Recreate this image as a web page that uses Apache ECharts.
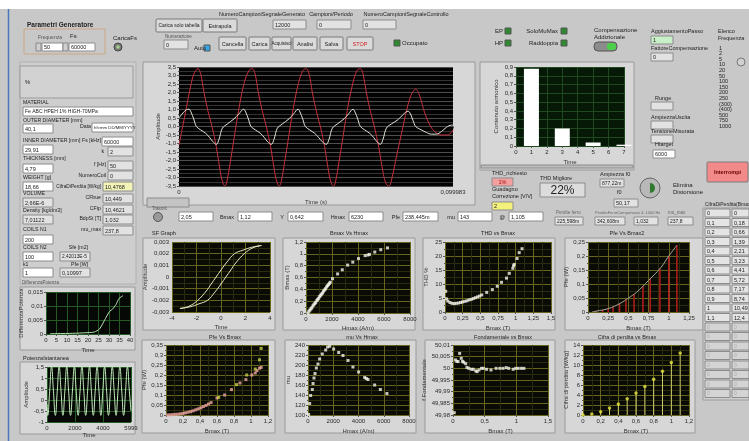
<!DOCTYPE html>
<html><head><meta charset="utf-8">
<script src="https://cdn.jsdelivr.net/npm/echarts@6/dist/echarts.min.js"></script>
<style>html,body{margin:0;padding:0;background:#c8c8c8;}#c{width:749px;height:441px;}</style>
</head><body><div id="c"></div>
<script>
// ---------------- DATA ----------------
const mainRed = [[0,-1.1],[0.00122,-0.1],[0.00268,1.1],[0.00414,2.3],[0.00547,3.1],[0.00693,3.4],
[0.00791,3.1],[0.00912,2.0],[0.01058,0.9],[0.01204,0.0],[0.01363,-1.2],[0.01521,-2.8],[0.01618,-3.4],[0.01679,-3.5],[0.01752,-3.2],[0.01861,-2.2],[0.02019,-0.6],[0.0219,1.1],[0.02384,2.6],[0.02555,3.3],
[0.02676,3.4],[0.02774,3.1],[0.02895,2.0],[0.03041,0.9],[0.03187,0.0],[0.03345,-1.2],[0.03504,-2.8],[0.03601,-3.4],[0.03662,-3.5],[0.03735,-3.2],[0.03844,-2.2],[0.04002,-0.6],[0.04173,1.1],[0.04367,2.6],[0.04526,3.3],
[0.04647,3.4],[0.04745,3.1],[0.04866,2.0],[0.05012,0.9],[0.05158,0.0],[0.05316,-1.2],[0.05474,-2.8],[0.05572,-3.4],[0.05645,-3.5],[0.05718,-3.2],[0.05827,-2.2],[0.05985,-0.6],[0.06156,1.1],[0.0635,2.6],[0.06496,3.3],
[0.06618,3.4],[0.06715,3.1],[0.06837,2.0],[0.06983,0.9],[0.07129,0.0],[0.07287,-1.2],[0.07457,-2.8],[0.07567,-3.4],[0.07664,-3.5],[0.07749,-3.2],[0.07932,-1.8],[0.08175,0.0],[0.08358,1.3],[0.08516,2.0],[0.08637,2.2],[0.08783,1.8],[0.08966,0.8],[0.09148,0.1],[0.09331,-0.3],[0.09574,-0.5],[0.09818,-0.5],[0.099983,-0.2]];
const mainWhite = [[0,0.5],[0.00146,0.8],[0.00268,0.98],[0.00365,1.02],
[0.00438,0.85],[0.00535,0.45],[0.00633,0.0],[0.00791,-0.2],[0.00973,-0.4],[0.01119,-0.65],[0.01241,-0.9],[0.01363,-1.05],[0.0146,-0.75],[0.01582,-0.1],[0.01764,0.15],[0.02007,0.45],[0.0219,0.75],
[0.0236,1.02],[0.02433,0.85],[0.0253,0.45],[0.02628,0.0],[0.02786,-0.2],[0.02968,-0.4],[0.03114,-0.65],[0.03236,-0.9],[0.0337,-1.05],[0.03467,-0.75],[0.03589,-0.1],[0.03771,0.15],[0.04015,0.45],[0.04185,0.75],
[0.04343,1.02],[0.04416,0.85],[0.04513,0.45],[0.04611,0.0],[0.04769,-0.2],[0.04951,-0.4],[0.05097,-0.65],[0.05231,-0.9],[0.05377,-1.05],[0.05474,-0.75],[0.05596,-0.1],[0.05779,0.15],[0.06022,0.45],[0.06192,0.75],
[0.0635,1.02],[0.06423,0.85],[0.06521,0.45],[0.06618,0.0],[0.06776,-0.2],[0.06959,-0.4],[0.07105,-0.65],[0.07226,-0.9],[0.07348,-1.05],[0.07445,-0.75],[0.07567,-0.1],[0.07749,0.15],[0.07993,0.4],[0.08175,0.7],
[0.08358,0.9],[0.08443,0.75],[0.0854,0.35],[0.08637,0.0],[0.08844,-0.2],[0.09027,-0.35],[0.09209,-0.45],[0.09392,-0.45],[0.09574,-0.3],[0.09757,-0.05],[0.09939,0.08],[0.099983,0.08]];
const harmOrder = [1, 3, 5, 7];
const harmAmp = [0.88, 0.2, 0.04, 0.015];
const hystUpper = [[3.3,0.0027],[2.5,0.00255],[1.8,0.0023],[1.1,0.002],[0.5,0.0013],[0,0.0006],[-0.4,0],[-0.8,-0.0006],[-1.2,-0.0012],[-1.9,-0.002],[-2.6,-0.0025],[-3.35,-0.0027]];
const hystLower = [[-3.35,-0.0027],[-2.5,-0.00255],[-1.8,-0.0023],[-1.1,-0.002],[-0.5,-0.0013],[0,-0.0006],[0.4,0],[0.8,0.0006],[1.2,0.0012],[1.9,0.002],[2.6,0.0025],[3.3,0.0027]];
const bmaxHmax = [[150,0.0],[230,0.03],[300,0.05],[380,0.07],[450,0.09],[530,0.12],[600,0.14],[680,0.16],[750,0.18],[830,0.21],[900,0.23],[980,0.25],[1050,0.28],[1130,0.3],[1200,0.32],[1280,0.34],[1350,0.37],[1430,0.39],[1500,0.41],[1580,0.44],[1650,0.46],[1730,0.48],[1800,0.5],[1870,0.52],[2040,0.58],[2430,0.66],[2790,0.73],[3200,0.81],[3600,0.86],[4040,0.92],[4550,0.97],[4760,0.98],[4880,0.99],[5290,1.03],[5750,1.07],[6270,1.1]];
const thdBmax = [[0.01,7.4],[0.02,4.7],[0.04,3.9],[0.07,3.4],[0.1,3.1],[0.13,3.0],[0.16,3.1],[0.19,3.2],[0.22,3.4],[0.25,3.6],[0.28,3.8],[0.31,4.0],[0.34,4.3],[0.37,4.5],[0.4,4.8],[0.43,5.1],[0.46,5.4],[0.49,5.7],[0.52,6.1],[0.59,7.0],[0.67,8.0],[0.74,9.2],[0.8,10.6],[0.87,12.1],[0.91,13.8],[0.96,15.6],[0.97,16.5],[0.98,17.0],[1.02,19.1],[1.05,21.2],[1.09,22.6]];
const pfeStems = [[0.1,0.003],[0.18,0.007],[0.25,0.012],[0.31,0.019],[0.39,0.03],[0.47,0.044],[0.57,0.064],[0.68,0.092],[0.77,0.118],[0.89,0.155],[1.0,0.2],[1.1,0.238]];
const pfeCurve = [[0.05,0.0],[0.1,0.003],[0.25,0.012],[0.4,0.031],[0.5,0.05],[0.6,0.07],[0.75,0.113],[0.9,0.158],[1.0,0.2],[1.1,0.238]];
const pfePink = [[0.02,0.0],[0.05,0.001],[0.08,0.002],[0.11,0.003],[0.14,0.004],[0.17,0.006],[0.2,0.008],[0.23,0.011],[0.26,0.014],[0.29,0.017],[0.32,0.021],[0.35,0.026],[0.38,0.031],[0.41,0.036],[0.44,0.042],[0.47,0.048],[0.5,0.055],[0.53,0.062],[0.6,0.085],[0.69,0.1],[0.77,0.127],[0.87,0.16],[0.94,0.177],[1.01,0.2],[1.05,0.21],[1.07,0.222],[1.1,0.234],[1.12,0.238]];
const pfeYellow = [[0.62,0.088],[0.83,0.152],[0.95,0.2],[1.05,0.23],[1.1,0.276],[1.12,0.333]];
const muHmax = [[50,101],[130,123],[210,139],[340,151],[400,163],[475,174],[555,183],[660,194],[790,202],[920,212],[1130,222],[1400,230],[1550,236],[1720,237.5],[2030,232],[2430,225],[2770,219],[3170,209],[3560,196],[4010,186],[4490,175],[4620,173],[4750,171],[5280,160],[5730,151],[6250,143]];
const fundBmax = [[0.02,49.981],[0.04,50.0036],[0.06,50.003],[0.08,50.0029],[0.105,50.0064],[0.13,50.0043],[0.15,50.003],[0.17,50.0026],[0.2,50.002],[0.22,50.0004],[0.25,50.0],[0.29,49.9996],[0.32,49.9996],[0.36,49.9989],[0.38,49.9986],[0.41,49.9993],[0.45,50.0],[0.48,50.0],[0.53,49.9996],[0.6,49.9993],[0.68,50.0],[0.74,50.0],[0.79,50.0],[0.84,50.0003],[0.88,50.0],[0.95,49.9996],[0.99,50.0],[1.03,50.0],[1.08,50.0],[1.12,50.0]];
const lossB = [0, 0.1, 0.2, 0.3, 0.4, 0.5, 0.6, 0.7, 0.8, 0.9, 1, 1.1];
const lossVal = [0, 0.18, 0.66, 1.39, 2.21, 3.23, 4.41, 5.72, 7.17, 8.74, 10.49, 12.4];
const lossBLabels = ['0','0,1','0,2','0,3','0,4','0,5','0,6','0,7','0,8','0,9','1','1,1'];
const lossValLabels = ['0','0,18','0,66','1,39','2,21','3,23','4,41','5,72','7,17','8,74','10,49','12,4'];
const diffPot = [[2,0.0001],[10,0.0002],[15,0.0003],[20,0.0005],[23,0.0007],[25.5,0.0018],[28.3,0.0055],[30.2,0.008],[31.7,0.0089],[33.3,0.0105],[34.8,0.0127],[36.7,0.0137]];
const potInst = [[0,-0.2],[54,-0.7],[190,0.4],[325,1.5],[460,0.4],[596,-0.7],[732,0.4],[867,1.5],[1003,0.4],[1138,-0.7],[1274,0.4],[1409,1.5],[1545,0.4],[1680,-0.7],[1816,0.4],[1951,1.5],[2087,0.4],[2222,-0.7],[2358,0.4],[2493,1.5],[2629,0.4],[2764,-0.7],[2900,0.4],[3035,1.5],[3171,0.4],[3306,-0.7],[3442,0.4],[3577,1.5],[3713,0.4],[3848,-0.7],[3984,0.4],[4119,1.5],[4255,0.4],[4390,-0.7],[4526,0.4],[4661,1.5],[4797,0.4],[4932,-0.7],[5068,0.4],[5203,1.5],[5339,0.4],[5474,-0.7],[5610,0.4],[5745,1.5],[5881,0.4],[5999,-0.5]];
const freqList = ['1','2','5','10','20','50','100','150','200','250','(300)','(400)','500','750','1000'];

// ---------------- HELPERS ----------------
const F = '"Liberation Sans","DejaVu Sans",Arial,sans-serif';
const fmt = v => String(parseFloat(v.toFixed(6))).replace('.', ',');
const G = [];
function rect(x,y,w,h,fill,stroke,z,r){ G.push({type:'rect', z:(z===undefined?-5:z), shape:{x:x,y:y,width:w,height:h,r:r||0}, style:{fill:fill, stroke:stroke||null, lineWidth:1}}); }
function txt(x,y,s,o){ o=o||{}; G.push({type:'text', z:(o.z===undefined?20:o.z), x:x, y:y, rotation:o.rot||0, style:{text:s, fill:o.c||'#222', font:(o.b?'bold ':'')+(o.s||6)+'px '+F, align:o.a||'left', verticalAlign:o.v||'middle'}}); }
function inp(x,y,w,h,s,fill,o){ o=o||{}; rect(x,y,w,h,fill||'#ffffff','#8c8c8c',-2); txt(o.a==='center'?x+w/2:x+2,y+h/2+0.5,s,{s:o.s||5.5,c:o.c||'#222',a:o.a||'left',b:o.b}); }
function btn(x,y,w,h,s,o){ o=o||{}; rect(x,y,w,h,o.fill||'#dadada','#7a7a7a',-2,1); txt(x+w/2,y+h/2+0.5,s,{s:o.s||5.5,c:o.c||'#222',a:'center',b:o.b}); }
function led(x,y,c){ rect(x,y,6,6,c,'#555',-1); }

const grids=[], xAxes=[], yAxes=[], series=[];
const lab = {fontSize:6, color:'#2a2a2a', fontFamily:F, margin:3};
const nts = {fontSize:6, color:'#333', fontFamily:F};
function plot(p){
  const i = grids.length;
  grids.push({left:p.l, top:p.t, width:p.w, height:p.h, show:true, backgroundColor:p.bg, borderWidth:0});
  xAxes.push({gridIndex:i, type:'value', min:p.x[0], max:p.x[1], interval:p.x[2], name:p.xn, nameLocation:'middle', nameGap:p.xg||13, nameTextStyle:nts,
    axisLine:{show:false}, axisTick:{show:true,length:2,lineStyle:{color:'#555'}},
    axisLabel:Object.assign({}, lab, {formatter:p.xf||fmt, showMinLabel:true, showMaxLabel:true}),
    splitLine:{show:p.gx!==false, lineStyle:{color:p.gc,width:1}},
    minorTick:{show:!!p.mx, splitNumber:p.mx||2, length:1},
    minorSplitLine:{show:!!p.mx, lineStyle:{color:p.mc,width:1}}});
  yAxes.push({gridIndex:i, type:'value', min:p.y[0], max:p.y[1], interval:p.y[2], name:p.yn, nameLocation:'middle', nameGap:p.yg||15, nameTextStyle:nts, nameRotate:90,
    axisLine:{show:false}, axisTick:{show:true,length:2,lineStyle:{color:'#555'}},
    axisLabel:Object.assign({}, lab, {formatter:p.yf||fmt, showMinLabel:true, showMaxLabel:true}),
    splitLine:{show:true, lineStyle:{color:p.gc,width:1}},
    minorTick:{show:!!p.my, splitNumber:p.my||2, length:1},
    minorSplitLine:{show:!!p.my, lineStyle:{color:p.mc,width:1}}});
  return i;
}
function line(i,data,color,o){ o=o||{}; series.push({type:'line', xAxisIndex:i, yAxisIndex:i, data:data, showSymbol:false, smooth:o.smooth===undefined?0.3:o.smooth, lineStyle:{color:color,width:o.w||1}, itemStyle:{color:color}, animation:false, z:o.z||3}); }
function dots(i,data,color,size,sym){ series.push({type:'scatter', xAxisIndex:i, yAxisIndex:i, data:data, symbol:sym||'rect', symbolSize:size||3, itemStyle:{color:color}, animation:false, z:4}); }
function stems(i,data,color,w){ series.push({type:'bar', xAxisIndex:i, yAxisIndex:i, data:data, barWidth:w||1, itemStyle:{color:color}, animation:false, z:3}); }

const PANEL='#d7d7d7', PSTROKE='#9a9a9a';
const OLIVE='#66661f', OLIVEM='#2b2b10', SMBG='#0b0b06';

// ---------------- BACKGROUND / FRAMES ----------------
rect(0,0,749,9,'#ffffff',null,-9);
G.push({type:'line', z:-4, shape:{x1:8.5,y1:9,x2:8.5,y2:441}, style:{stroke:'#4a78c0', lineWidth:1.5}});
rect(20,62,116,222,'#cecece','#b0b0b0',-8);
rect(143,62,332,143,PANEL,PSTROKE);
rect(480,62,154,108,PANEL,PSTROKE);
rect(20,287,115,63,PANEL,PSTROKE);
rect(20,362,115,72,PANEL,PSTROKE);
rect(143,238,132,92,PANEL,PSTROKE);
rect(283,238,132,92,PANEL,PSTROKE);
rect(423,238,132,92,PANEL,PSTROKE);
rect(565,238,138,92,PANEL,PSTROKE);
rect(142,340,133,93,PANEL,PSTROKE);
rect(285,340,131,93,PANEL,PSTROKE);
rect(425,340,130,93,PANEL,PSTROKE);
rect(565,340,130,93,PANEL,PSTROKE);
rect(147,198,42,9,'#c4c4c4','#8a8a8a',-2);
rect(481,165,152,3,'#bdbdbd','#8a8a8a',-2);

// ---------------- TOP BAR ----------------
txt(27,25,'Parametri Generatore',{b:true,s:6.5});
rect(24,29,81,25,'rgba(0,0,0,0)','#c8a882',-3);
txt(50,38,'Frequenza',{s:5,c:'#555',a:'center'}); txt(70,36,'Fs',{s:6});
rect(36,43,5,8,'#cfcfcf','#888',-2); inp(42,43,21,8,'50');
rect(63,43,5,8,'#cfcfcf','#888',-2); inp(69,43,26,8,'60000');
txt(113,38,'CaricaFs',{s:6});
G.push({type:'circle', z:5, shape:{cx:118,cy:47,r:4}, style:{fill:'#7a7a7a', stroke:'#444'}});
G.push({type:'circle', z:6, shape:{cx:118,cy:47,r:1.8}, style:{fill:'#9fd08a'}});
btn(156,19,46,13,'Carica solo tabella',{s:5});
btn(203,19,34,13,'Estrapola',{s:5.5});
txt(262,14,'NumeroCampioniSegnaleGenerato',{s:5.5,a:'center'});
txt(331,14,'Campioni/Periodo',{s:5.5,a:'center'});
txt(406,14,'NumeroCampioniSegnaleControllo',{s:5.5,a:'center'});
inp(273,20,33,9,'12000','#e2e2e2'); inp(317,20,34,9,'0','#e2e2e2'); inp(363,20,33,9,'0','#e2e2e2');
txt(165,37,'Numerazione',{s:4.5,c:'#555'}); inp(164,40,24,9,'0','#e2e2e2');
txt(194,48,'Auto',{s:6}); led(204,45,'#3aa8e8');
btn(219,37,27,13,'Cancella'); btn(249,37,21,13,'Carica'); btn(272,37,19,13,'Acquisisci',{s:4.5});
btn(293,37,24,13,'Analisi'); btn(320,37,23,13,'Salva'); btn(347,37,26,13,'STOP',{c:'#d02020'});
led(394,40,'#2e8a2e'); txt(402,43,'Occupato');
txt(503,31,'EP',{a:'right'}); led(505,28,'#2e8a2e');
txt(503,43,'HP',{a:'right'}); led(505,40,'#2e8a2e');
txt(558,31,'SoloMuMax',{a:'right'}); led(561,28,'#2e8a2e');
txt(558,43,'Raddoppia',{a:'right'}); led(561,40,'#2e8a2e');
txt(594,30,'Compensazione'); txt(594,37,'Addizionale');
rect(594,42,23,9,'#8c8c8c','#555',-2,4); rect(607,43,9,7,'#4cd04c',null,-1,3);
txt(651,31,'AggiustamentoPasso',{s:5.5}); inp(651,36,22,8,'1','#c8f0c8');
txt(651,48,'FattoreCompensazione',{s:5.5}); inp(651,53,22,8,'0','#e2e2e2');
txt(718,31,'Elenco',{s:5.5}); txt(718,38,'Frequenza',{s:5.5});
freqList.forEach((s,k)=>txt(719,48+k*5.6,s,{s:5.5}));
G.push({type:'circle', z:5, shape:{cx:741,cy:62,r:4}, style:{fill:'#d0d0d0', stroke:'#777'}});
txt(655,98,'Runge',{s:5.5}); inp(651,102,22,8,'','#e2e2e2');
txt(651,117,'AmpiezzaUscita',{s:5.5}); inp(651,121,22,8,'','#e2e2e2');
txt(651,131,'TensioneMisurata',{s:5.5}); inp(651,135,22,8,'','#e2e2e2');
txt(655,144,'Htarget',{s:5.5}); inp(653,150,22,8,'6000');

// ---------------- LEFT PANEL ----------------
const LS = 5.2;
rect(20,66,113,32,'#d2d2d2','#9a9a9a',-3); txt(25,82,'%');
txt(23,103,'MATERIAL',{s:LS}); inp(23,107,110,9,'Fe ABC HPEH 1% HIGH-70MPa','#fff',{s:5});
txt(23,121,'OUTER DIAMETER [mm]',{s:LS}); inp(23,124,30,9,'40,1');
txt(80,127,'Data',{s:LS}); inp(92,123,41,9,'hh:mm DD/MM/YYYY','#fff',{s:4.3});
txt(23,141,'INNER DIAMETER [mm]',{s:LS}); txt(101,141,'Fs [kHz]',{s:LS,a:'right'}); inp(102,137,31,9,'60000');
inp(23,145,30,9,'29,91');
txt(104,152,'k',{a:'right',s:LS}); inp(108,147,25,9,'2','#e2e2e2');
txt(23,159,'THICKNESS [mm]',{s:LS}); txt(106,165,'f [Hz]',{a:'right',s:LS}); inp(108,161,25,9,'50','#e2e2e2');
inp(23,164,30,9,'4,79');
txt(106,176,'NumeroCoil',{a:'right',s:LS}); inp(108,171,25,9,'0','#e2e2e2');
txt(23,178,'WEIGHT [g]',{s:LS}); inp(23,182,30,9,'18,66');
txt(101,187,'CifraDiPerdita [W/kg]',{a:'right',s:4.8}); inp(103,182,30,9,'10,4768','#f4f4b8');
txt(23,194,'VOLUME',{s:LS}); inp(23,198,30,9,'2,66E-6','#e2e2e2');
txt(101,198,'CFbue',{a:'right',s:LS}); inp(103,194,30,9,'10,449','#e2e2e2');
txt(101,209,'CFtp',{a:'right',s:LS}); inp(103,205,30,9,'10,4621','#e2e2e2');
txt(23,211,'Density [kg/dm3]',{s:LS}); inp(23,215,30,9,'7,01122','#e2e2e2');
txt(101,219,'BdpSt [T]',{a:'right',s:LS}); inp(103,215,30,9,'1,032','#e2e2e2');
txt(101,230,'mu_max',{a:'right',s:LS}); inp(103,226,30,9,'237,8','#e2e2e2');
txt(23,230,'COILS N1',{s:LS}); inp(23,235,30,9,'200');
txt(23,248,'COILS N2',{s:LS}); txt(88,248,'Sfe [m2]',{a:'right',s:LS}); inp(23,252,30,9,'100'); inp(60,252,30,9,'2,42013E-5','#e2e2e2',{s:4.8});
txt(23,265,'k1',{s:LS}); txt(88,265,'Pfe [W]',{a:'right',s:LS}); inp(23,268,30,9,'1'); inp(60,268,30,9,'0,10997','#e2e2e2');
txt(22,283,'DifferenzaPotenza',{s:4.5,c:'#555'});
txt(23,358,'PotenzaIstantanea',{s:5.5});

// ---------------- MIDDLE CONTROLS ----------------
txt(492,173,'THD_richiesto',{s:5.5}); inp(492,178,21,8,'1%','#f4a0a0',{a:'center',c:'#a01010'});
txt(492,189,'Guadagno',{s:5.5}); txt(492,196,'Correzione [V/V]',{s:5.5}); inp(492,202,21,8,'2','#f4f07c');
txt(540,178,'THD Migliore',{s:5.5}); inp(540,183,45,14,'22%','#dcdcdc',{s:12,a:'center'});
txt(600,174,'Ampiezza f0',{s:5.5}); inp(600,179,24,8,'877,22m','#e2e2e2',{s:5});
txt(617,192,'f0',{s:5.5}); inp(614,199,24,8,'50,17','#e2e2e2');
G.push({type:'circle', z:5, shape:{cx:650,cy:188,r:10}, style:{fill:'#b8b8b8', stroke:'#666'}});
G.push({type:'sector', z:6, shape:{cx:650,cy:188,r:5,startAngle:-Math.PI/2,endAngle:Math.PI/2}, style:{fill:'#2f7a2f'}});
txt(673,185,'Elimina'); txt(673,192,'Distorsione');
btn(707,162,41,20,'Interrompi',{fill:'#f28a8a',c:'#6a0000',b:true});

txt(152,209,'Trasmit',{s:4.5,c:'#555'});
G.push({type:'circle', z:5, shape:{cx:158,cy:217,r:4.5}, style:{fill:'#9a9a9a', stroke:'#555'}});
inp(179,212,34,9,'2,05'); txt(234,217,'Bmax',{a:'right',s:5.5}); inp(238,212,34,9,'1,12');
txt(284,217,'Y',{a:'right',s:5.5}); inp(288,212,35,9,'0,642');
txt(345,217,'Hmax',{a:'right',s:5.5}); inp(349,212,34,9,'6230');
txt(400,217,'Pfe',{a:'right',s:5.5}); inp(403,212,35,9,'238,445m');
txt(455,217,'mu',{a:'right',s:5.5}); inp(458,212,34,9,'143');
txt(505,217,'@',{a:'right',s:5.5}); inp(509,212,34,9,'1,105');
txt(556,213,'Perdite ferro',{s:4.5,c:'#666'}); inp(555,217,28,8,'225,598m','#e2e2e2',{s:5});
txt(595,213,'PerditeFerroCompensate 4..1000 Hz',{s:4,c:'#666'}); inp(595,217,30,8,'342,608m','#e2e2e2',{s:5});
inp(634,217,24,8,'1,032','#e2e2e2',{s:5});
txt(668,213,'mu_max',{s:4.5,c:'#666'}); inp(668,217,25,8,'237,8','#e2e2e2',{s:5});

txt(705,205,'CifraDiPerdita(Bmax)',{s:5});
rect(703,208,46,192,'#cfcfcf','#9a9a9a',-4);
for(let k=0;k<20;k++){
  const y=209+k*9.5;
  if(k<lossBLabels.length){ inp(705,y,25,8,lossBLabels[k],'#e4e4e4',{s:5.5}); inp(732,y,17,8,lossValLabels[k],'#e4e4e4',{s:5.5}); }
  else { inp(705,y,25,8,'0','#d4d4d4',{s:5,c:'#aaa'}); inp(732,y,17,8,'0','#d4d4d4',{s:5,c:'#aaa'}); }
}

txt(152,233,'SF Graph',{s:5.5});
txt(349,233,'Bmax Vs Hmax',{s:5.5,a:'center'});
txt(498,233,'THD vs Bmax',{s:5.5,a:'center'});
txt(627,233,'Pfe Vs Bmax2',{s:5.5,a:'center'});
txt(225,337,'Pfe Vs Bmax',{s:5.5,a:'center'});
txt(362,337,'mu Vs Hmax',{s:5.5,a:'center'});
txt(503,337,'Fondamentale vs Bmax',{s:5.5,a:'center'});
txt(627,337,'Cifra di perdita vs Bmax',{s:5.5,a:'center'});

// ---------------- CHARTS ----------------
let i = plot({l:179,t:67,w:274,h:119,bg:'#030303',gc:'#4e4e4e',mc:'#333',x:[0,0.099983,0.099983],y:[-3.5,3.5,0.5],
  gx:false, my:2, xn:'Time (s)', yn:'Amplitude', yg:17, xg:13, yf:v=>v.toFixed(1).replace('.',',')});
line(i, mainRed, '#c8303c', {smooth:0.35});
line(i, mainWhite, '#e6e6dc', {smooth:0.35});
i = plot({l:516,t:67,w:108,h:79,bg:'#061806',gc:'#1f4a1f',x:[0,7,1],y:[0,0.9,0.1],xn:'Time',yn:'Contenuto armonico',yg:17});
series.push({type:'bar', xAxisIndex:i, yAxisIndex:i, data:harmOrder.map((h,k)=>[h,harmAmp[k]]), barWidth:15, itemStyle:{color:'#ffffff'}, animation:false});
i = plot({l:46,t:292,w:84,h:42,bg:'#050805',gc:'#245a24',x:[0,40,5],y:[0,0.015,0.005],xn:'Time',yn:'DifferenzaPotenza',yg:19});
line(i, diffPot, '#b8e0b0', {smooth:0.2});
i = plot({l:47,t:367,w:84,h:55,bg:'#050805',gc:'#245a24',x:[0,5999,2000],y:[-1,1.5,0.5],xn:'Time',xg:10,yn:'Amplitude',yg:17});
line(i, potInst, '#c8f0c0', {smooth:0.5});
i = plot({l:172,t:242,w:98,h:70,bg:SMBG,gc:OLIVE,mc:OLIVEM,mx:2,my:2,x:[-4,4,2],y:[-0.003,0.003,0.001],xn:'Time',xg:12,yn:'Amplitude',yg:22});
line(i, hystUpper, '#e8e8c4', {smooth:0.4});
line(i, hystLower, '#e8e8c4', {smooth:0.4});
i = plot({l:306,t:242,w:104,h:71,bg:SMBG,gc:OLIVE,mc:OLIVEM,mx:2,my:2,x:[0,8000,2000],y:[0,1.2,0.2],xn:'Hmax (A/m)',xg:12,yn:'Bmax (T)',yg:14});
dots(i, bmaxHmax, '#f4f4ea', 3);
i = plot({l:445,t:242,w:106,h:70,bg:SMBG,gc:OLIVE,mc:OLIVEM,mx:2,my:2,x:[0,1.5,0.25],y:[0,25,5],xn:'Bmax (T)',xg:13,yn:'THD %',yg:16});
dots(i, thdBmax, '#f4f4ea', 3);
i = plot({l:588,t:242,w:101,h:70,bg:SMBG,gc:OLIVE,mc:OLIVEM,mx:2,my:2,x:[0,1.25,0.25],y:[0,0.25,0.05],xn:'Bmax (T)',xg:13,yn:'Pfe (W)',yg:18});
stems(i, pfeStems, '#b81c1c', 1.5);
line(i, pfeCurve, '#a8a89a', {smooth:0.4});
i = plot({l:166,t:345,w:102,h:70,bg:SMBG,gc:OLIVE,mc:OLIVEM,mx:2,my:2,x:[0,1.2,0.2],y:[0,0.35,0.05],xn:'Bmax (T)',xg:13,yn:'Pfe (W)',yg:15});
dots(i, pfePink, '#f0a8a0', 3);
dots(i, pfeYellow, '#c8d048', 3);
i = plot({l:308,t:345,w:101,h:70,bg:SMBG,gc:OLIVE,mc:OLIVEM,mx:2,my:2,x:[0,8000,2000],y:[100,240,20],xn:'Hmax (A/m)',xg:13,yn:'mu',yg:15});
dots(i, muHmax, '#f4f4ea', 3);
i = plot({l:453,t:345,w:95,h:70,bg:SMBG,gc:OLIVE,mc:OLIVEM,mx:2,my:2,x:[0,1.5,0.5],y:[49.98,50.01,0.005],xn:'Bmax (T)',xg:13,yn:'f Fondamentale',yg:25});
dots(i, fundBmax, '#f4f4ea', 3);
i = plot({l:583,t:345,w:106,h:70,bg:SMBG,gc:OLIVE,mc:OLIVEM,mx:2,my:2,x:[0,1.2,0.2],y:[0,14,2],xn:'Bmax (T)',xg:13,yn:'Cifra di perdita [W/kg]',yg:12});
stems(i, lossB.map((b,k)=>[b,lossVal[k]]), '#c8c86a', 1);
dots(i, lossB.map((b,k)=>[b,lossVal[k]]), '#e8e840', 3.5, 'circle');

const chart = echarts.init(document.getElementById('c'), null, {renderer:'canvas'});
chart.setOption({
  backgroundColor:'#c8c8c8',
  animation:false,
  grid:grids, xAxis:xAxes, yAxis:yAxes, series:series,
  graphic:{elements:G}
});
</script></body></html>
